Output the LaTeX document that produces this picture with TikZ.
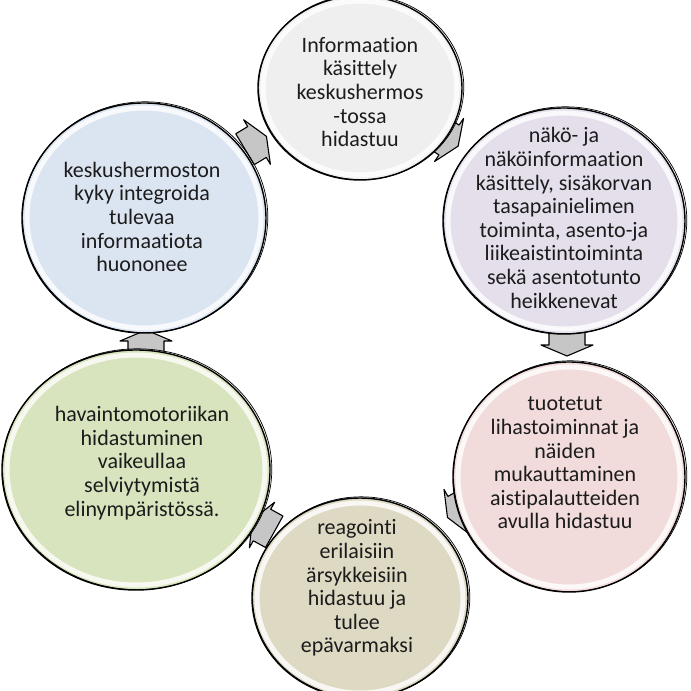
\documentclass[tikz,border=0pt]{standalone}
\usepackage{fontspec}
\setmainfont{Carlito}[Ligatures={NoCommon}]
\usetikzlibrary{calc}
\definecolor{fT}{HTML}{EFEFEF}
\definecolor{fUR}{HTML}{E5DFEC}
\definecolor{fLR}{HTML}{F2DCDB}
\definecolor{fB}{HTML}{DDD9C3}
\definecolor{fLL}{HTML}{D7E4BD}
\definecolor{fUL}{HTML}{DBE5F1}
\definecolor{ink}{HTML}{1C1C1C}
\tikzset{
  bubble/.style={draw=black, line width=1.4pt},
  sketchline/.style={draw=black, line width=0.7pt},
  glow/.style={draw=white, line width=5pt, opacity=0.8},
  txt/.style={align=center, font=\fontsize{22}{23.6}\selectfont, text=ink, inner sep=0pt},
  cyclearrow/.style={draw=black, line width=1.1pt, fill=gray!45, line join=round},
}
\newcommand{\blockarrow}[2]{%
  \draw[cyclearrow, shift={(#1)}, rotate=#2] (-14,-18) -- (0,-18) -- (0,-26) -- (11,0) -- (0,26) -- (0,18) -- (-14,18) -- cycle;}
\newcommand{\bubbleshape}[4]{% center, rx, ry, color
  \fill[#4] (#1) ellipse [x radius=#2, y radius=#3];
  \draw[glow] (#1) ellipse [x radius=#2-5, y radius=#3-5];
  \draw[bubble] (#1) ellipse [x radius=#2, y radius=#3];
  \draw[sketchline] ($(#1)+(1.2,-0.8)$) ellipse [x radius=#2+0.6, y radius=#3+0.4];}
\begin{document}
\begin{tikzpicture}[x=1pt,y=-1pt]
\useasboundingbox (0,0) rectangle (691,691);
% centres
\coordinate (cT) at (360,88);
\coordinate (cUR) at (564,221);
\coordinate (cLR) at (569,477);
\coordinate (cB) at (360,598);
\coordinate (cLL) at (136,470);
\coordinate (cUL) at (144,218);
% arrow positions
\coordinate (a1) at (449,140);
\coordinate (a2) at (567,345);
\coordinate (a3) at (457,512);
\coordinate (a4) at (262,525);
\coordinate (a5) at (146,341);
\coordinate (a6) at (257,142);
\blockarrow{a1}{-34}
\blockarrow{a2}{-90}
\blockarrow{a3}{-150}
\blockarrow{a4}{151}
\blockarrow{a5}{90}
\blockarrow{a6}{31}
% bubbles
\bubbleshape{cT}{102}{92}{fT}
\bubbleshape{cUR}{121}{113}{fUR}
\bubbleshape{cLR}{116}{115}{fLR}
\bubbleshape{cB}{108}{100}{fB}
\bubbleshape{cLL}{134}{120}{fLL}
\bubbleshape{cUL}{122}{115}{fUL}
% texts
\node[txt] (T) at (360,92) {Informaation\\käsittely\\keskushermos\\-tossa\\hidastuu};
\node[txt] (UR) at (564,218) {näkö- ja\\näköinformaation\\käsittely, sisäkorvan\\tasapainielimen\\toiminta, asento-ja\\liikeaistintoiminta\\sekä asentotunto\\heikkenevat};
\node[txt] (LR) at (565,463) {tuotetut\\lihastoiminnat ja\\näiden\\mukauttaminen\\aistipalautteiden\\avulla hidastuu};
\node[txt] (B) at (357,588) {reagointi\\erilaisiin\\ärsykkeisiin\\hidastuu ja\\tulee\\epävarmaksi};
\node[txt] (LL) at (142,463) {havaintomotoriikan\\hidastuminen\\vaikeullaa\\selviytymistä\\elinympäristössä.};
\node[txt] (UL) at (142,217) {keskushermoston\\kyky integroida\\tulevaa\\informaatiota\\huononee};
\end{tikzpicture}
\end{document}
